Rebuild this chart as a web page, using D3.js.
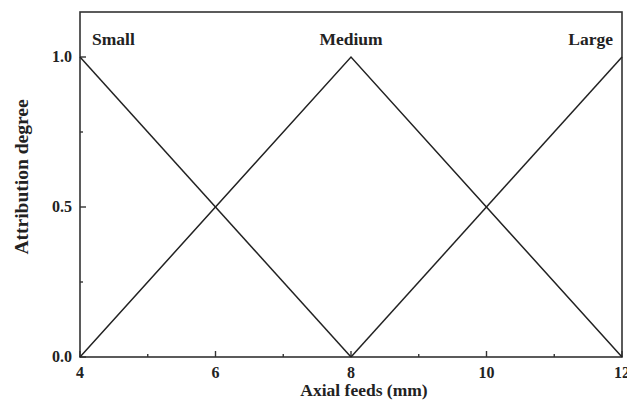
<!DOCTYPE html>
<html>
<head>
<meta charset="utf-8">
<script src="https://cdn.jsdelivr.net/npm/d3@7"></script>
<style>
  body { margin: 0; background: #fff; }
  text { font-family: "Liberation Serif", "DejaVu Serif", serif; font-weight: bold; fill: #222; }
</style>
</head>
<body>
<svg id="chart" width="627" height="416"></svg>
<script>
// membership functions for axial feed
let smallSet = [[4, 1], [8, 0]];
let mediumSet = [[4, 0], [8, 1], [12, 0]];
let largeSet = [[8, 0], [12, 1]];
let setNames = ["Small", "Medium", "Large"];
let xTicks = [4, 6, 8, 10, 12];
let xMinor = [5, 7, 9, 11];
let yTicks = [0, 0.5, 1];
let yMinor = [0.25, 0.75];

let margin = {left: 80, right: 5, top: 12, bottom: 59};
let width = 627, height = 416;
let svg = d3.select("#chart");

let x = d3.scaleLinear().domain([4, 12]).range([margin.left, width - margin.right]);
let y = d3.scaleLinear().domain([0, 1.15]).range([height - margin.bottom, margin.top]);

let x0 = x.range()[0], x1 = x.range()[1];
let y0 = y.range()[0], y1 = y.range()[1];

// frame
svg.append("rect")
  .attr("x", x0).attr("y", y1)
  .attr("width", x1 - x0).attr("height", y0 - y1)
  .attr("fill", "none").attr("stroke", "#333").attr("stroke-width", 1.6);

// ticks (inward)
let g = svg.append("g").attr("stroke", "#333").attr("stroke-width", 1.4);
g.selectAll("line.xmaj").data(xTicks).enter().append("line")
  .attr("x1", d => x(d)).attr("x2", d => x(d)).attr("y1", y0).attr("y2", y0 - 6);
g.selectAll("line.xmin").data(xMinor).enter().append("line")
  .attr("x1", d => x(d)).attr("x2", d => x(d)).attr("y1", y0).attr("y2", y0 - 3);
g.selectAll("line.ymaj").data(yTicks).enter().append("line")
  .attr("x1", x0).attr("x2", x0 + 6).attr("y1", d => y(d)).attr("y2", d => y(d));
g.selectAll("line.ymin").data(yMinor).enter().append("line")
  .attr("x1", x0).attr("x2", x0 + 3).attr("y1", d => y(d)).attr("y2", d => y(d));

// tick labels ("12" runs off the right edge, as in the original)
svg.selectAll("text.xt").data(xTicks).enter().append("text")
  .attr("x", d => x(d)).attr("y", y0 + 21)
  .attr("text-anchor", "middle").attr("font-size", 16)
  .text(d => d);
svg.selectAll("text.yt").data(yTicks).enter().append("text")
  .attr("x", x0 - 8).attr("y", d => y(d) + 5)
  .attr("text-anchor", "end").attr("font-size", 16)
  .text(d => d3.format(".1f")(d));

// membership lines
let line = d3.line().x(d => x(d[0])).y(d => y(d[1]));
[smallSet, mediumSet, largeSet].forEach(s => {
  svg.append("path").datum(s)
    .attr("d", line)
    .attr("fill", "none").attr("stroke", "#222").attr("stroke-width", 1.5);
});

// set labels
svg.append("text").attr("x", x(4) + 12).attr("y", 45)
  .attr("font-size", 17.5).text(setNames[0]);
svg.append("text").attr("x", x(8)).attr("y", 45)
  .attr("text-anchor", "middle").attr("font-size", 17.5).text(setNames[1]);
svg.append("text").attr("x", x(12) - 9).attr("y", 45)
  .attr("text-anchor", "end").attr("font-size", 17.5).text(setNames[2]);

// axis titles
svg.append("text").attr("x", (x0 + x1) / 2 + 13).attr("y", 396)
  .attr("text-anchor", "middle").attr("font-size", 17.5).text("Axial feeds (mm)");
svg.append("text")
  .attr("transform", "translate(28,177) rotate(-90)")
  .attr("text-anchor", "middle").attr("font-size", 19.5).text("Attribution degree");
</script>
</body>
</html>
